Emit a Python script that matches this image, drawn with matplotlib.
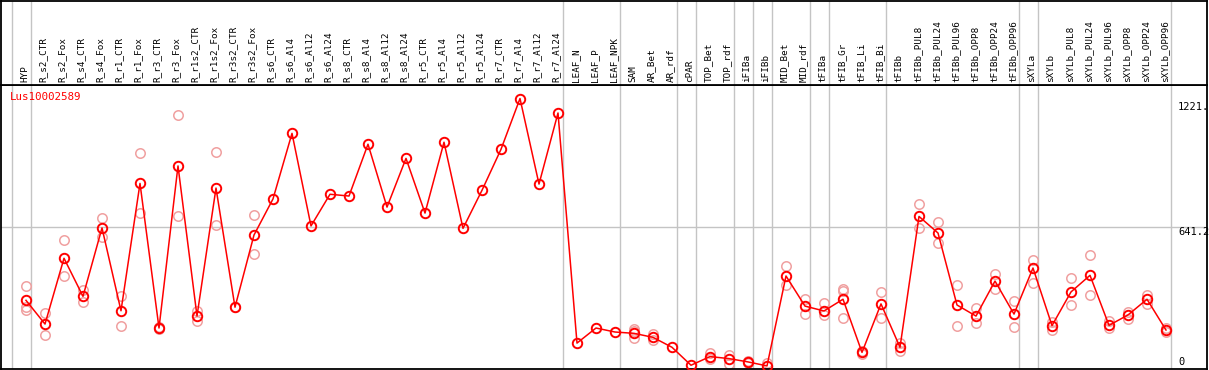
import matplotlib
matplotlib.use("Agg")
import matplotlib.pyplot as plt
import numpy as np

categories = ["HYP", "R_s2_CTR", "R_s2_Fox", "R_s4_CTR", "R_s4_Fox", "R_r1_CTR", "R_r1_Fox",
              "R_r3_CTR", "R_r3_Fox", "R_r1s2_CTR", "R_r1s2_Fox", "R_r3s2_CTR", "R_r3s2_Fox",
              "R_s6_CTR", "R_s6_Al4", "R_s6_Al12", "R_s6_Al24", "R_s8_CTR", "R_s8_Al4", "R_s8_Al12",
              "R_s8_Al24", "R_r5_CTR", "R_r5_Al4", "R_r5_Al12", "R_r5_Al24", "R_r7_CTR", "R_r7_Al4",
              "R_r7_Al12", "R_r7_Al24", "LEAF_N", "LEAF_P", "LEAF_NPK", "SAM", "AR_Bet", "AR_rdf",
              "cPAR", "TOP_Bet", "TOP_rdf", "iFIBa", "iFIBb", "MID_Bet", "MID_rdf", "tFIBa",
              "tFIB_Gr", "tFIB_Li", "tFIB_Bi", "tFIBb", "tFIBb_PUL8", "tFIBb_PUL24", "tFIBb_PUL96",
              "tFIBb_OPP8", "tFIBb_OPP24", "tFIBb_OPP96", "sXYLa", "sXYLb", "sXYLb_PUL8",
              "sXYLb_PUL24", "sXYLb_PUL96", "sXYLb_OPP8", "sXYLb_OPP24", "sXYLb_OPP96"]

mean_values = [310, 203, 500, 328, 637, 263, 838, 185, 917, 239, 817, 279, 605,
               768, 1064, 646, 789, 781, 1015, 731, 951, 704, 1024, 635, 807, 992, 1221.3,
               835, 1156, 117, 185, 167, 161, 143, 98, 17, 56, 47, 32, 14, 420, 284, 262,
               315, 75, 294, 98, 689, 614, 289, 239, 397, 248, 456, 196, 348, 423, 197,
               244, 315, 176]

replicates = [[373, 281, 266], [251, 152], [581, 419], [357, 301], [682, 595], [330, 194],
              [974, 703], [180, 190], [1146, 691], [263, 215], [980, 649], [279], [695, 519],
              [], [], [], [], [], [], [], [], [], [], [], [], [], [], [], [], [], [], [],
              [182, 140, 170], [158, 131], [], [], [74, 47], [62, 23], [35, 29], [29],
              [464, 378], [316, 247], [297, 242], [360, 354, 229], [68, 80], [346, 229],
              [116, 83], [744, 635], [662, 567], [378, 196], [274, 208], [429, 360],
              [306, 190], [491, 387], [211, 175], [409, 288], [513, 333], [218, 184],
              [257, 227], [334, 294], [185, 167]]

group_ends = [-1, 0, 28, 31, 34, 35, 37, 38, 39, 41, 42, 45, 52, 53, 60]
gene_name = "Lus10002589"

W, H = 1209, 370
fig = plt.figure(figsize=(W / 100, H / 100), dpi=100)

def px_x(p):
    return p / W

def px_y(p):
    return 1 - p / H

x0_px, dx_px = 26.0, 19.0
left_px, right_px = 1.0, 1207.0
xlim = ((left_px - x0_px) / dx_px, (right_px - x0_px) / dx_px)

top_plot, bottom_plot = 85.0, 369.0
ax = fig.add_axes([px_x(left_px), px_y(bottom_plot), px_x(right_px - left_px),
                   (bottom_plot - top_plot) / H])
axh = fig.add_axes([px_x(left_px), px_y(top_plot), px_x(right_px - left_px),
                    (top_plot - 0.5) / H])

ymax = max(mean_values) * 1.05
mid = ymax / 2

grid_c = "#c4c4c4"
for a in (ax, axh):
    a.set_xlim(*xlim)
    a.set_xticks([])
    a.set_yticks([])
    for s in a.spines.values():
        s.set_color("black")
        s.set_linewidth(1.3)
    for g in group_ends:
        a.axvline(g + 0.24, color=grid_c, lw=1.0, zorder=0)

ax.set_ylim(0, ymax)
ax.axhline(mid, color=grid_c, lw=1.0, zorder=0)
axh.set_ylim(0, 1)

xs = np.arange(len(categories))
rx, ry = [], []
for i, reps in enumerate(replicates):
    for v in reps:
        rx.append(i)
        ry.append(v)
ax.plot(rx, ry, linestyle="none", marker="o", markersize=6.8,
        markerfacecolor="none", markeredgecolor="#f0a0a0", markeredgewidth=1.1, zorder=2)
ax.plot(xs, mean_values, color="#ff0000", lw=1.1, marker="o", markersize=6.8,
        markerfacecolor="none", markeredgecolor="#ff0000", markeredgewidth=1.4, zorder=3,
        clip_on=False)

mono = "DejaVu Sans Mono"

def axfx(p):
    return (p - left_px) / (right_px - left_px)

def axfy(p):
    return (bottom_plot - p) / (bottom_plot - top_plot)

ax.text(axfx(10), axfy(97), gene_name, color="#ff0000",
        fontsize=7.8, family=mono, transform=ax.transAxes, ha="left", va="center")
ax.text(axfx(1178), axfy(107), "%.0f." % max(mean_values), fontsize=7.5, family=mono,
        transform=ax.transAxes, ha="left", va="center")
ax.text(axfx(1178), axfy(232), "%.1f" % mid, fontsize=7.5, family=mono,
        transform=ax.transAxes, ha="left", va="center")
ax.text(axfx(1178), axfy(362), "0", fontsize=7.5, family=mono,
        transform=ax.transAxes, ha="left", va="center")

for i, c in enumerate(categories):
    axh.text(i - 0.08, 0.035, c, rotation=90, ha="center", va="bottom", fontsize=6.7,
             family=mono)

fig.savefig("out.png", dpi=100)
